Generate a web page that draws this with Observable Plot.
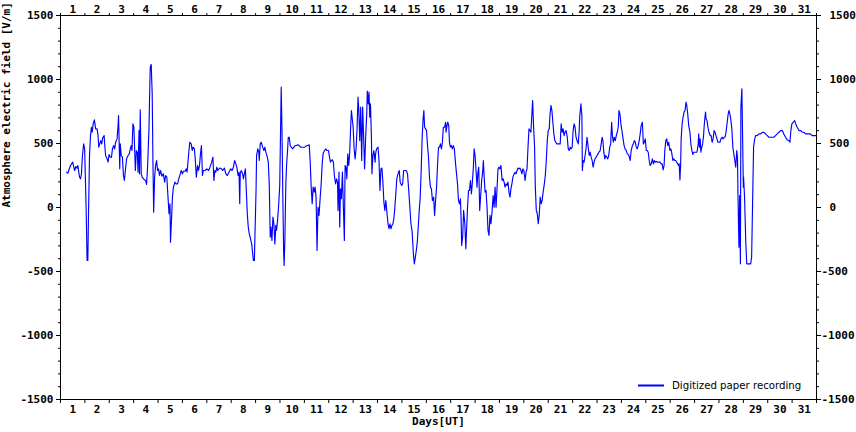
<!DOCTYPE html>
<html>
<head>
<meta charset="utf-8">
<script src="https://cdn.jsdelivr.net/npm/d3@7"></script>
<script src="https://cdn.jsdelivr.net/npm/@observablehq/plot@0.6"></script>
<style>
  html, body { margin: 0; padding: 0; background: #fff; }
  #chart { width: 856px; height: 432px; }
</style>
</head>
<body>
<div id="chart"></div>
<script>
// ---- Data: time in days (UT, 0 = start of day 1), atmospheric electric field in V/m ----
const daysA = [
  0.25,0.30,0.41,0.50,0.54,0.58,0.63,0.68,0.71,0.78,
  0.82,0.86,0.90,0.95,0.99,1.05,1.09,1.12,1.15,1.19,
  1.23,1.27,1.30,1.34,1.39,1.44,1.50,1.54,1.57,1.61,
  1.65,1.69,1.73,1.79,1.81,1.85,1.91,1.95,1.99,2.04,
  2.09,2.13,2.18,2.22,2.26,2.32,2.36,2.38,2.43,2.45,
  2.49,2.54,2.58,2.62,2.66,2.71,2.77,2.82,2.86,2.90,
  2.93,2.97,3.01,3.07,3.11,3.15,3.18,3.22,3.24,3.27,
  3.31,3.35,3.44,3.49,3.53,3.57,3.63,3.65,3.68,3.72,
  3.76,3.79,3.82,3.86,3.90,3.94,3.98,4.02,4.06,4.10,
  4.16,4.22,4.27,4.31,4.36,4.40,4.45,4.49,4.51,4.55,
  4.59,4.63,4.69,4.74,4.80,4.85,4.91,4.95,5.00,5.04,
  5.11,5.15,5.19,5.25,5.30,5.36,5.40,5.44,5.49,5.53,
  5.57,5.62,5.66,5.70,5.74,5.78,5.82,5.86,5.93,6.00,
  6.07,6.13,6.20,6.25,6.29,6.33,6.37,6.41,6.45,6.50,
  6.54,6.60,6.65,6.72,6.78,6.84,6.91,6.98,7.03,7.09,
  7.14,7.19,7.23,7.28,7.32,7.35,7.37,7.41,7.47,7.50,
  7.54,7.58,7.62,7.66,7.70,7.74
];
const fieldA = [
  276,268,328,354,320,289,320,307,328,237,
  224,263,406,497,458,2,-414,-414,-37,406,
  562,627,588,653,685,614,614,562,471,497,
  523,497,544,562,497,406,380,354,414,393,
  393,458,484,458,510,536,640,719,302,497,
  406,393,250,211,289,380,406,419,458,484,
  445,653,627,289,445,432,276,601,263,763,
  263,237,216,211,180,315,627,836,1096,1117,
  888,367,-37,237,328,367,289,302,250,289,
  245,263,198,250,237,107,-49,29,-271,-101,
  81,159,198,185,185,224,263,289,263,283,
  283,302,276,406,510,497,445,471,458,367,
  237,328,289,328,419,484,250,289,289,302,
  289,315,354,393,211,289,276,315,289,302,
  308,302,289,308,263,250,276,302,289,315,
  367,341,315,250,276,29,263,289,263,224,
  263,302,133,-49,-153,-205
];

const daysB = [
  7.84,7.91,7.95,7.97,8.02,8.04,8.09,8.13,8.15,8.19,
  8.23,8.29,8.34,8.38,8.42,8.48,8.52,8.56,8.60,8.63,
  8.67,8.71,8.75,8.79,8.83,8.86,8.90,8.94,8.99,9.03,
  9.05,9.08,9.12,9.15,9.17,9.20,9.24,9.27,9.31,9.34,
  9.38,9.42,9.46,9.52,9.57,9.62,9.68,9.73,9.79,9.84,
  9.90,9.95,10.02,10.09,10.14,10.20,10.24,10.28,10.32,10.36,
  10.40,10.44,10.48,10.52,10.56,10.60,10.65,10.69,10.73,10.77,
  10.83,10.88,10.93,10.99,11.03,11.07,11.11,11.15,11.19,11.23,
  11.28,11.32,11.36,11.38,11.42,11.45,11.48,11.52,11.56,11.60,
  11.64,11.67,11.71,11.74,11.78,11.82,11.86,11.90,11.93,11.95,
  12.00,12.04,12.08,12.12,12.16,12.20,12.23,12.27,12.31,12.35,
  12.39,12.43,12.47,12.51,12.56,12.58,12.62,12.65,12.68,12.71,
  12.75,12.77,12.81,12.85,12.90,12.92,12.96,13.02,13.06,13.10,
  13.14,13.18,13.22,13.26,13.30,13.34,13.39,13.43,13.47,13.51,
  13.55,13.59,13.63,13.67,13.71,13.75,13.79,13.84,13.89,13.93,
  13.99,14.03,14.07,14.12,14.18,14.23,14.27,14.33,14.37,14.42,
  14.47,14.51,14.55,14.59,14.63,14.67,14.71,14.75,14.79,14.83,
  14.87,14.90,14.93,14.97,15.01,15.05,15.09,15.13,15.17,15.21,
  15.25,15.30,15.34,15.38,15.42,15.46,15.50,15.54,15.58,15.62,
  15.66,15.70
];
const fieldB = [
  -284,-414,-414,-245,146,406,458,432,367,497,
  510,471,445,471,432,393,354,185,-232,-153,
  -258,-75,-127,-284,-140,-179,-101,2,172,680,
  940,627,42,-349,-453,-258,185,328,445,549,
  549,484,471,458,471,484,484,490,484,471,
  471,471,471,484,484,490,354,159,29,159,
  120,159,81,-336,2,-62,81,185,341,424,
  445,458,445,445,393,354,367,373,354,250,
  185,224,198,-23,276,-153,146,68,276,2,
  -258,328,315,224,419,328,432,640,758,719,
  627,458,380,458,614,862,771,523,784,367,
  784,549,302,536,745,909,810,901,706,810,
  549,263,406,445,354,419,458,471,367,133,
  302,308,198,42,-23,55,-49,-127,-166,-127,
  -166,-140,-127,-88,2,107,224,263,289,198,
  172,185,289,289,289,263,159,-10,-127,-193,
  -362,-440,-388,-336,-271,-153,-23,81,289,549,
  693,758,627,614,601,484,393,237,159,146,
  55,81,-62,55,159,328,471,471,497,458,
  510,627
];

const daysC = [
  15.75,15.79,15.81,15.86,15.88,15.92,15.95,15.99,16.03,16.07,
  16.11,16.15,16.20,16.24,16.28,16.32,16.36,16.40,16.43,16.45,
  16.49,16.53,16.58,16.62,16.65,16.69,16.73,16.77,16.81,16.85,
  16.89,16.93,16.96,17.00,17.04,17.08,17.11,17.15,17.19,17.23,
  17.27,17.31,17.34,17.37,17.41,17.45,17.49,17.53,17.57,17.61,
  17.65,17.70,17.74,17.78,17.82,17.86,17.90,17.94,17.98,18.02,
  18.06,18.11,18.15,18.19,18.23,18.27,18.31,18.35,18.39,18.43,
  18.47,18.51,18.55,18.60,18.64,18.68,18.72,18.76,18.80,18.84,
  18.88,18.92,18.96,19.00,19.05,19.09,19.13,19.17,19.21,19.25,
  19.29,19.33,19.36,19.40,19.44,19.47,19.51,19.55,19.59,19.63,
  19.67,19.71,19.75,19.79,19.84,19.88,19.92,19.96,20.00,20.04,
  20.07,20.11,20.15,20.19,20.23,20.27,20.31,20.35,20.40,20.45,
  20.49,20.53,20.57,20.61,20.65,20.69,20.73,20.78,20.82,20.86,
  20.90,20.94,20.98,21.02,21.06,21.10,21.14,21.18,21.23,21.27,
  21.29,21.34,21.38,21.40,21.43,21.47,21.51,21.55,21.59,21.63,
  21.68,21.72,21.76,21.80,21.84,21.88,21.92,21.96,22.00,22.04,
  22.08,22.13,22.17,22.21,22.24,22.28,22.32,22.36,22.40,22.44,
  22.48,22.52,22.56,22.60,22.63,22.67,22.71,22.75,22.79,22.83,
  22.87
];
const fieldC = [
  627,666,588,653,666,640,510,471,484,458,
  484,458,341,263,185,55,29,68,-114,-297,
  -232,-23,-127,-323,-179,2,133,133,211,107,
  198,315,458,406,289,159,263,315,-23,94,
  211,276,367,250,120,133,2,-179,-218,-62,
  -127,-23,94,2,159,2,146,302,315,302,
  328,211,224,198,159,185,172,198,120,81,
  146,185,237,263,276,263,289,308,302,308,
  289,263,302,289,211,276,302,471,614,601,
  588,732,836,627,471,159,-23,-49,-127,-62,
  81,29,55,120,185,250,367,523,601,614,
  719,797,758,666,575,523,510,497,497,497,
  497,653,588,614,562,588,601,549,458,445,
  471,458,471,601,653,627,549,523,497,601,
  706,810,719,289,367,354,406,458,549,484,
  406,432,393,367,315,354,380,393,406,419,
  432,445,497,549,523,432,380,406,393,380,
  406,471,497,666,562,510,549,523,562,588,
  627
];

const daysD = [
  22.90,22.94,22.98,23.03,23.07,23.11,23.15,23.20,23.24,23.28,
  23.32,23.36,23.40,23.45,23.49,23.53,23.57,23.61,23.65,23.69,
  23.73,23.77,23.81,23.86,23.90,23.94,23.98,24.02,24.06,24.10,
  24.14,24.18,24.22,24.27,24.31,24.35,24.39,24.43,24.47,24.51,
  24.55,24.59,24.63,24.67,24.71,24.75,24.78,24.82,24.86,24.90,
  24.94,24.99,25.03,25.07,25.11,25.15,25.19,25.23,25.27,25.31,
  25.34,25.37,25.40,25.43,25.45,25.49,25.53,25.57,25.61,25.65,
  25.68,25.72,25.76,25.81,25.85,25.89,25.93,25.97,26.02,26.06,
  26.10,26.15,26.17,26.20,26.23,26.26,26.28,26.33,26.37,26.39,
  26.42,26.45,26.47,26.51,26.55,26.59,26.64,26.68,26.72,26.76,
  26.80,26.84,26.88,26.92,26.96,27.00,27.04,27.08,27.13,27.17,
  27.21,27.25,27.29,27.33,27.37,27.41,27.45,27.49,27.53,27.57,
  27.62,27.66,27.69,27.73,27.76,27.78,27.82,27.85,27.88,27.90,
  27.94,27.97,28.00,28.01,28.05,28.10,28.14,28.22,28.30,28.34,
  28.38,28.42,28.46,28.50,28.57,28.64,28.71,28.78,28.84,28.91,
  28.98,29.05,29.12,29.19,29.25,29.32,29.39,29.46,29.53,29.60,
  29.66,29.73,29.80,29.87,29.91,29.95,29.99,30.05,30.10,30.15,
  30.21,30.28,30.35,30.41,30.48,30.55,30.62,30.69,30.75,30.82,
  30.89,30.98
];
const fieldD = [
  758,732,653,588,536,484,458,445,419,414,
  398,367,445,484,497,523,510,471,458,484,
  523,575,640,666,497,510,536,445,445,432,
  367,328,341,380,341,367,354,360,354,354,
  354,354,341,341,294,328,445,523,536,484,
  510,445,458,419,367,380,367,367,354,341,
  328,341,216,341,536,653,706,745,758,823,
  797,732,640,588,497,445,414,432,432,432,
  432,497,575,471,536,432,458,497,562,627,
  693,745,693,680,627,588,562,562,510,536,
  601,588,562,536,510,510,510,536,549,536,
  549,549,588,653,719,758,732,680,614,471,
  406,354,315,445,393,107,-310,94,-440,784,
  927,549,159,237,81,-271,-440,-440,-440,-388,
  42,471,528,562,562,575,575,588,588,575,
  562,549,549,549,549,562,575,588,601,601,
  575,549,528,523,510,601,653,666,680,653,
  627,601,601,588,588,575,575,575,575,562,
  562,562
];

// Tick labels / tick values
const dayLabels = [1,2,3,4,5,6,7,8,9,10,11,12,13,14,15,16,17,18,19,20,21,22,23,24,25,26,27,28,29,30,31];
const dayBoundaries = [0,1,2,3,4,5,6,7,8,9,10,11,12,13,14,15,16,17,18,19,20,21,22,23,24,25,26,27,28,29,30,31];
const yMajorTicks = [-1500,-1000,-500,0,500,1000,1500];
const yMajorPos = [0,500,1000,1500];
const yMajorNeg = [-1500,-1000,-500];
const yMinorTicks = d3.range(-1500, 1501, 100);
const yTitle = "Atmosphere electric field [V/m]";
const xTitle = "Days[UT]";
const legendLabel = "Digitized paper recording";
const lineColor = "#0000ff";

// ---- Build table ----
const segs = [[daysA, fieldA], [daysB, fieldB], [daysC, fieldC], [daysD, fieldD]];
segs.forEach(([d, v], i) => {
  if (d.length !== v.length) throw new Error("segment " + i + " length mismatch " + d.length + " vs " + v.length);
});
const data = segs.flatMap(([d, v]) => d.map((t, i) => ({day: t, field: v[i]})));

const W = 856, H = 432, mL = 60, mR = 40, mT = 15, mB = 33;
const monoFont = "'DejaVu Sans Mono', 'Liberation Mono', monospace";

const legendMark = (index, scales, values, dimensions) => {
  const {width, height, marginRight, marginBottom} = dimensions;
  const g = d3.create("svg:g");
  const x1 = width - marginRight - 178;
  const y = height - marginBottom - 13.5;
  g.append("line")
    .attr("x1", x1).attr("x2", x1 + 26)
    .attr("y1", y).attr("y2", y)
    .attr("stroke", lineColor).attr("stroke-width", 2);
  g.append("text")
    .attr("x", x1 + 34).attr("y", y)
    .attr("dy", "0.35em")
    .attr("text-anchor", "start")
    .attr("font-family", "'DejaVu Sans', sans-serif")
    .attr("font-weight", "normal")
    .attr("font-size", "10.2px")
    .attr("fill", "black")
    .text(legendLabel);
  return g.node();
};

const plot = Plot.plot({
  width: W, height: H,
  marginLeft: mL, marginRight: mR, marginTop: mT, marginBottom: mB,
  style: {fontFamily: monoFont, fontSize: "11px", fontWeight: "bold", background: "white", color: "black"},
  x: {domain: [0, 31], label: null},
  y: {domain: [-1500, 1500], label: null},
  marks: [
    Plot.line(data, {x: "day", y: "field", stroke: lineColor, strokeWidth: 1.15}),
    Plot.frame({stroke: "black", strokeWidth: 1}),
    // y axes
    Plot.axisY(yMajorTicks, {anchor: "left", tickSize: 4, tickPadding: 3, tickFormat: d => String(d), label: null}),
    Plot.axisY(yMinorTicks, {anchor: "left", tickSize: 2, tickFormat: () => "", label: null}),
    Plot.axisY(yMajorPos, {anchor: "right", tickSize: 4, tickPadding: 9, tickFormat: d => String(d), label: null}),
    Plot.axisY(yMajorNeg, {anchor: "right", tickSize: 4, tickPadding: 1, tickFormat: d => String(d), label: null}),
    Plot.axisY(yMinorTicks, {anchor: "right", tickSize: 2, tickFormat: () => "", label: null}),
    // x axes (ticks at day boundaries)
    Plot.axisX(dayBoundaries, {anchor: "bottom", tickSize: 4, tickFormat: () => "", label: null}),
    Plot.axisX(dayBoundaries, {anchor: "top", tickSize: 3, tickFormat: () => "", label: null}),
    // day labels centred in each day
    Plot.text(dayLabels, {x: d => d - 0.5, frameAnchor: "bottom", dy: 13, text: d => String(d)}),
    Plot.text(dayLabels, {x: d => d - 0.5, frameAnchor: "top", dy: -10, text: d => String(d)}),
    // titles
    Plot.text([yTitle], {frameAnchor: "left", dx: -54, rotate: -90, text: d => d}),
    Plot.text([xTitle], {frameAnchor: "bottom", dy: 25, text: d => d}),
    legendMark
  ]
});
document.getElementById("chart").appendChild(plot);
</script>
</body>
</html>
